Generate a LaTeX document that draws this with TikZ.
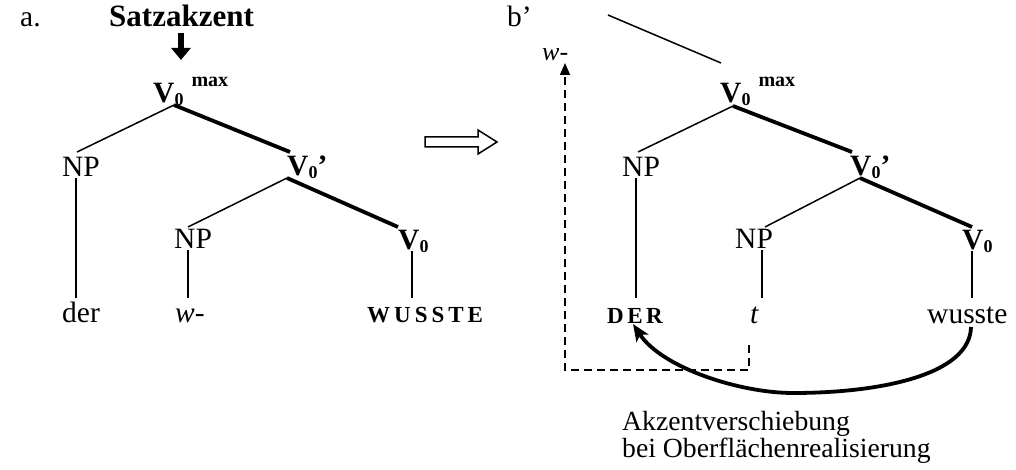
\documentclass[tikz,border=0pt]{standalone}
\usepackage{fontspec}
\setmainfont{Liberation Serif}
\usetikzlibrary{arrows.meta}
\newcommand{\fs}[1]{\fontsize{#1}{#1}\selectfont}
\newcommand{\Vsub}{\textbf{V}\raisebox{-3pt}{\fs{18}\textbf{0}}}
\begin{document}
\begin{tikzpicture}[x=1pt,y=-1pt,
  lab/.style={inner sep=0pt,anchor=base west,font=\fs{29.5}},
  word/.style={inner sep=0pt,anchor=base west,font=\fs{23}\bfseries},
  note/.style={inner sep=0pt,anchor=base west,font=\fs{27.7}},
  thin/.style={line width=1.5pt},
  thick/.style={line width=3.8pt},
  dashline/.style={line width=1.6pt,dash pattern=on 8pt off 5pt},
]
\useasboundingbox (0,0) rectangle (1016,470);

% ---------- headings ----------
\node[lab] (la) at (20,27) {a.};
\node[lab,font=\fs{31}\bfseries] (sa) at (109,27) {Satzakzent};
\node[lab] (lb) at (507,27) {b’};

% down arrow under Satzakzent
\coordinate (sas) at (181,33);
\coordinate (sat) at (181,60);
\draw[line width=6.5pt,-{Triangle[width=19pt,length=12pt]}] (sas) -- (sat);

% ---------- tree a ----------
\node[lab] (av1) at (153,103) {\Vsub\hspace{8pt}\raisebox{16pt}{\fs{20}\textbf{max}}};
\node[lab] (anp1) at (62,177) {NP};
\node[lab] (av2) at (287,176) {\Vsub\textbf{’}};
\node[lab] (anp2) at (174,248) {NP};
\node[lab] (av3) at (398,249) {\Vsub};
\node[lab] (ader) at (62,322) {der};
\node[lab] (aw) at (175,322) {\textit{w}-};
\node[word] (awu) at (367,322) {W\hspace{4pt}U\hspace{4pt}S\hspace{4pt}S\hspace{4pt}T\hspace{4pt}E};

\coordinate (aA1) at (174,105);
\coordinate (aNP1t) at (77,152);
\coordinate (aV2t) at (290,152);
\coordinate (aA2) at (287,178);
\coordinate (aNP2t) at (188,227);
\coordinate (aV3t) at (398,227);
\coordinate (aNP1b) at (76,178);
\coordinate (aderT) at (76,298);
\coordinate (aNP2b) at (188,250);
\coordinate (awT) at (188,298);
\coordinate (aV3b) at (412,251);
\coordinate (awuT) at (412,298);

\draw[thin] (aA1) -- (aNP1t);
\draw[thick] (aA1) -- (aV2t);
\draw[thin] (aA2) -- (aNP2t);
\draw[thick] (aA2) -- (aV3t);
\draw[thin] (aNP1b) -- (aderT);
\draw[thin] (aNP2b) -- (awT);
\draw[thin] (aV3b) -- (awuT);

% hollow arrow
\draw[line width=1.5pt,line join=miter] (425,137) -- (478,137) -- (478,130) -- (497,142)
  -- (478,154) -- (478,147) -- (425,147) -- cycle;

% ---------- tree b ----------
\coordinate (bl1) at (608,15);
\coordinate (bl2) at (721,63);
\draw[thin] (bl1) -- (bl2);

\node[lab,font=\fs{26}] (bw) at (542,61) {\textit{w}-};

\node[lab] (bv1) at (720,103) {\Vsub\hspace{8pt}\raisebox{16pt}{\fs{20}\textbf{max}}};
\node[lab] (bnp1) at (622,177) {NP};
\node[lab] (bv2) at (850,176) {\Vsub\textbf{’}};
\node[lab] (bnp2) at (735,248) {NP};
\node[lab] (bv3) at (962,249) {\Vsub};
\node[word] (bder) at (607,323) {D\hspace{3.5pt}E\hspace{3.5pt}R};
\node[lab] (bt) at (750,323) {\textit{t}};
\node[lab] (bwu) at (927,323) {wusste};

\coordinate (bA1) at (733,106);
\coordinate (bNP1t) at (638,152);
\coordinate (bV2t) at (852,152);
\coordinate (bA2) at (860,178);
\coordinate (bNP2t) at (765,227);
\coordinate (bV3t) at (972,227);
\coordinate (bNP1b) at (636,178);
\coordinate (bderT) at (636,298);
\coordinate (bNP2b) at (762,250);
\coordinate (btT) at (762,298);
\coordinate (bV3b) at (972,251);
\coordinate (bwuT) at (972,298);

\draw[thin] (bA1) -- (bNP1t);
\draw[thick] (bA1) -- (bV2t);
\draw[thin] (bA2) -- (bNP2t);
\draw[thick] (bA2) -- (bV3t);
\draw[thin] (bNP1b) -- (bderT);
\draw[thin] (bNP2b) -- (btT);
\draw[thin] (bV3b) -- (bwuT);

% dashed movement arrow from t to w-
\coordinate (ts) at (749,345);
\coordinate (wt) at (565,63);
\draw[dashline,-{Triangle[width=10pt,length=12pt]}] (ts) -- ++(0,25) -| (wt);

% accent shift arrow
\coordinate (ws) at (971,327);
\coordinate (cb) at (793,393);
\coordinate (dt) at (633,324);
\draw[line width=3.8pt,-{Stealth[width=14pt,length=17pt,inset=4pt]}]
  (ws) .. controls (970,375) and (880,393) .. (cb)
       .. controls (740,393) and (662,368) .. (dt);

\node[note] (n1) at (622,430) {Akzentverschiebung};
\node[note] (n2) at (622,457) {bei Oberflächenrealisierung};
\end{tikzpicture}
\end{document}
